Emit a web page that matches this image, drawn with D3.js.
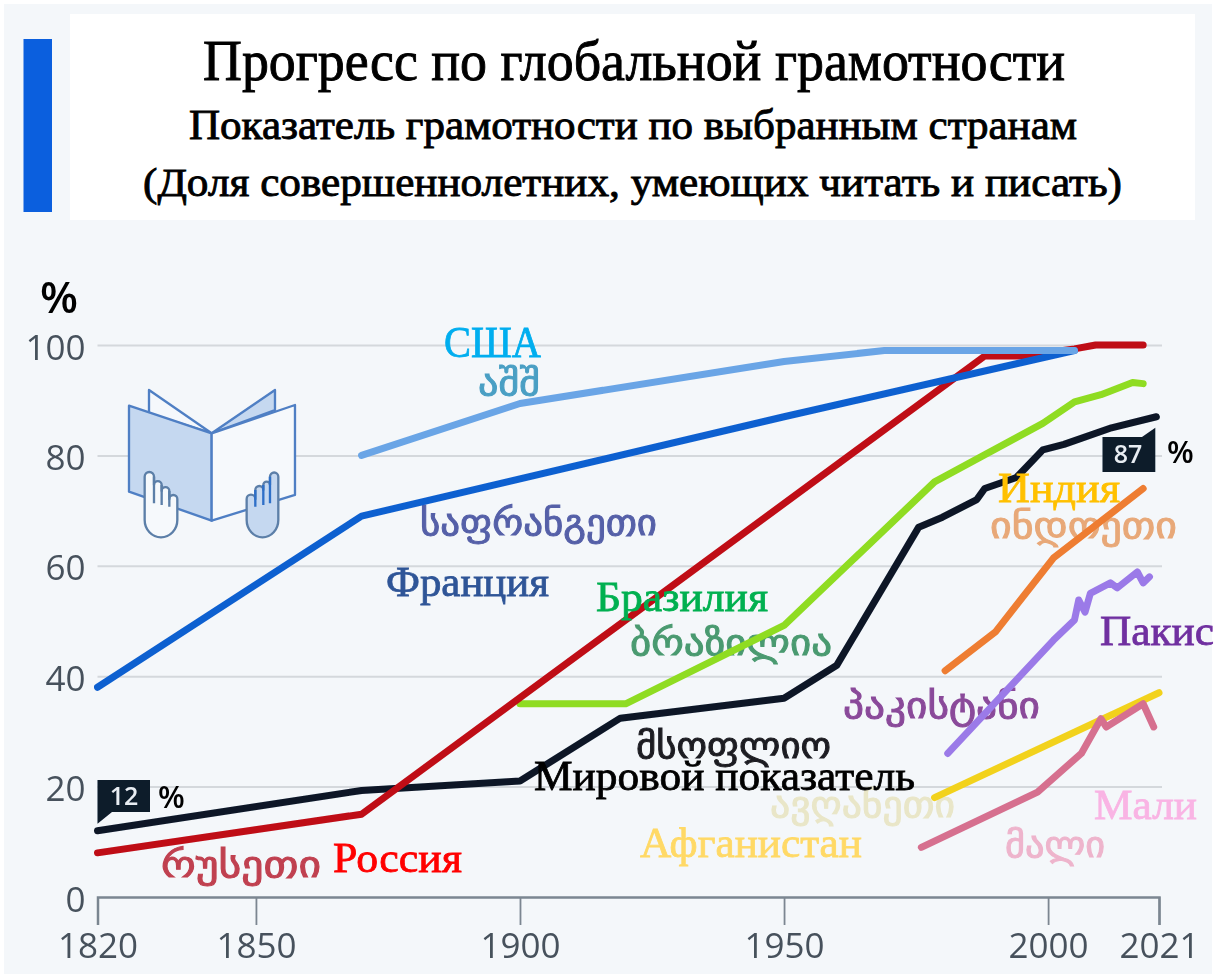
<!DOCTYPE html>
<html><head><meta charset="utf-8">
<script src="https://cdn.jsdelivr.net/npm/d3@7"></script>
<style>html,body{margin:0;padding:0;background:#fff}svg{display:block}</style>
</head><body><svg id="c" width="1214" height="978"></svg>
<script>
const xTicks=[1820,1850,1900,1950,2000,2021];
const yTicks=[0,20,40,60,80,100];
const worldYears=[1820,1870,1900,1919,1950,1960,1975.5,1980,1986.5,1988,1994,1999,2003,2012,2020.5];
const worldValues=[12,19.3,21,32.4,36,42,67,68.8,72,74,76,81,82,85,87];
const russiaYears=[1820,1870,1988,1995,2005,2009,2018];
const russiaValues=[8,15,98,98,99.3,100,100];
const franceYears=[1820,1870,1950,2005];
const franceValues=[38,69,87,99];
const usaYears=[1870,1900,1950,1969,2005];
const usaValues=[80,89.4,97,99,99];
const brazilYears=[1900,1920,1950,1978.5,1999,2005,2010,2016,2018];
const brazilValues=[35,35,49.2,75.2,85.8,89.7,91,93.2,93];
const indiaYears=[1980.5,1990,2001,2018];
const indiaValues=[41,48,61.4,74];
const pakistanYears=[1981,2001,2005,2005.8,2007,2008,2011.8,2013.1,2016.9,2018,2019.2];
const pakistanValues=[26,46.5,50.2,53.8,51.6,55,56.9,56,58.9,56.9,58];
const afghanYears=[1978.5,2021];
const afghanValues=[18,37];
const maliYears=[1976,1998,2006.3,2010,2011,2018,2020];
const maliValues=[9,19,26,32.3,30.8,35,30.8];
const titleLines=["Прогресс по глобальной грамотности","Показатель грамотности по выбранным странам","(Доля совершеннолетних, умеющих читать и писать)"];
const calloutValues=[12,87];

const seriesOrder=[
 ["world",worldYears,worldValues,"#0a1628"],
 ["brazil",brazilYears,brazilValues,"#8fdc20"],
 ["russia",russiaYears,russiaValues,"#bf0a14"],
 ["france",franceYears,franceValues,"#1160d0"],
 ["usa",usaYears,usaValues,"#6aa5e6"],
 ["india",indiaYears,indiaValues,"#ee7d31"],
 ["pakistan",pakistanYears,pakistanValues,"#9b7ae8"],
 ["afghan",afghanYears,afghanValues,"#f2d21e"],
 ["mali",maliYears,maliValues,"#d6708f"]];

// annotation layout: [text, x-left, x-right, baseline, size, colour]
const geoLabels=[
 ["აშშ",478,540,395,36,"#4a9fc4"],
 ["საფრანგეთი",420,657,535,36,"#5560a8"],
 ["ბრაზილია",630,832,655,36,"#4a9a70"],
 ["ინდოეთი",990,1177,538,36,"#e8a878"],
 ["პაკისტანი",843,1040,718,36,"#8a4a9a"],
 ["მსოფლიო",636,831,758,36,"#1c1c22"],
 ["ავღანეთი",770,955,817,36,"#e9e6c8"],
 ["მალი",1005,1105,857,36,"#eeb4cc"],
 ["რუსეთი",161,321,877,36,"#c04050"]];
const ruLabels=[
 ["США",444,541,357,44,"#00aeef"],
 ["Франция",386,549,596,43,"#2f5597"],
 ["Бразилия",596,768,611,43,"#00b050"],
 ["Индия",998,1120,502,43,"#ffc000"],
 ["Пакис",1100,1214,645,43,"#7030a0"],
 ["Мировой показатель",534,915,790,43,"#000"],
 ["Афганистан",640,862,857,43,"#ffd966"],
 ["Мали",1094,1197,819,43,"#f9b4e4"],
 ["Россия",333,462,872,43,"#ff0000"]];
const titleLayout=[[203,1065,80,56],[189,1077,139,42],[143,1122,196,41]];

const svg=d3.select("#c");
const defs=svg.append("defs");
defs.append("filter").attr("id","soft").append("feGaussianBlur").attr("stdDeviation",0.6);
const x=d3.scaleLinear().domain([1820,2021]).range([97.5,1159]);
const y=d3.scaleLinear().domain([0,100]).range([897,345]);
const serif="'Liberation Serif',serif";
const sans="'Open Sans',sans-serif";

svg.append("rect").attr("x",4).attr("y",4).attr("width",1208).attr("height",970).attr("fill","#f4f7fa");
svg.append("rect").attr("x",70).attr("y",14).attr("width",1125).attr("height",206).attr("fill","#fff");
svg.append("rect").attr("x",23.5).attr("y",39).attr("width",28.5).attr("height",173).attr("fill","#0b5fde");

svg.selectAll(".title").data(titleLines).join("text").attr("class","title")
 .attr("x",(d,i)=>titleLayout[i][0]).attr("y",(d,i)=>titleLayout[i][2])
 .attr("textLength",(d,i)=>titleLayout[i][1]-titleLayout[i][0]).attr("lengthAdjust","spacingAndGlyphs")
 .attr("font-family",serif).attr("font-size",(d,i)=>titleLayout[i][3])
 .attr("fill","#000").attr("stroke","#000").attr("stroke-width",0.9).text(d=>d);

const plot=svg.append("g").attr("filter","url(#soft)");
// y axis
const gy=plot.append("g").attr("transform","translate(97.5,0)")
 .call(d3.axisLeft(y).tickValues(yTicks).tickSize(-(1162-97.5)).tickPadding(12));
gy.select(".domain").remove();
gy.selectAll("line").attr("stroke","#d4d8dc").attr("stroke-width",2);
gy.selectAll("text").attr("font-family",sans).attr("font-size",35).attr("fill","#46515c").attr("dy",14);
gy.selectAll(".tick").filter(d=>d===0).select("line").remove();

// x axis
const gx=plot.append("g").attr("transform","translate(0,897)")
 .call(d3.axisBottom(x).tickValues(xTicks).tickFormat(d3.format("d")).tickSize(28).tickPadding(0));
gx.select(".domain").attr("stroke","#7b8691").attr("stroke-width",2.5);
gx.selectAll("line").attr("stroke","#7b8691").attr("stroke-width",1.8);
gx.selectAll("text").attr("font-family",sans).attr("font-size",35).attr("fill","#46515c").attr("dy",0).attr("y",61);

svg.append("text").attr("x",40).attr("y",313).attr("font-family",sans).attr("font-size",44).attr("font-weight",600).attr("fill","#000").text("%");

// book icon
const ic=plot.append("g").attr("transform","translate(110,375) scale(0.3333)").attr("stroke-linejoin","round").attr("stroke-width",7).attr("stroke","#4f7fc4");
ic.append("path").attr("d","M117 45L305 175L117 115Z").attr("fill","#f5f8fc");
ic.append("path").attr("d","M495 45L305 175L495 105Z").attr("fill","#c5d8f0");
ic.append("path").attr("d","M57 92L305 175V437L57 350Z").attr("fill","#c5d8f0");
ic.append("path").attr("d","M555 90L305 175V437L555 360Z").attr("fill","#f6f9fc");
ic.append("path").attr("d","M104 305A14 14 0 0 1 132 305V330A11.5 11.5 0 0 1 155 330V348A11.5 11.5 0 0 1 178 348V372A12 12 0 0 1 202 372V435A49 52 0 0 1 104 435Z").attr("fill","#f6f9fc").attr("stroke","#5c7fa8");
ic.append("path").attr("d","M132 305V385M155 330V390M178 348V395").attr("fill","none").attr("stroke","#5c7fa8");
ic.append("path").attr("d","M505 305A12.5 12.5 0 0 0 480 305V330A10 10 0 0 0 460 330V345A12 12 0 0 0 436 345V372A13 13 0 0 0 410 372V435A47.5 52 0 0 0 505 435Z").attr("fill","#c5d8f0").attr("stroke","#5c7fa8");
ic.append("path").attr("d","M480 305V385M460 330V390M436 345V395").attr("fill","none").attr("stroke","#2f6fc8");

const drawLabels=(parent,rows,font,sw)=>parent.append("g").selectAll("text").data(rows).join("text")
 .attr("x",d=>d[1]).attr("y",d=>d[3]).attr("textLength",d=>d[2]-d[1]).attr("lengthAdjust","spacingAndGlyphs")
 .attr("font-family",font).attr("font-size",d=>d[4]).attr("fill",d=>d[5]).attr("stroke",d=>d[5]).attr("stroke-width",sw).text(d=>d[0]);

drawLabels(plot,geoLabels,"'DejaVu Sans',sans-serif",1);

const line=d3.line().x(d=>x(d[0])).y(d=>y(d[1]));
plot.append("g").selectAll("path").data(seriesOrder).join("path")
 .attr("d",s=>line(s[1].map((yr,i)=>[yr,s[2][i]])))
 .attr("fill","none").attr("stroke",s=>s[3]).attr("stroke-width",7)
 .attr("stroke-linecap","round").attr("stroke-linejoin","round");

// callouts
const cx0=x(1820), cy0=y(calloutValues[0]);
plot.append("path").attr("d",`M${cx0} ${cy0-7}V780H150V812H112Z`).attr("fill","#0b1a2b");
plot.append("text").attr("x",124).attr("y",805).attr("text-anchor","middle").attr("font-family",sans).attr("font-size",25).attr("font-weight",600).attr("fill","#e8edf2").text(calloutValues[0]);
svg.append("text").attr("x",158).attr("y",808).attr("font-family",sans).attr("font-size",31).attr("font-weight",600).attr("fill","#000").text("%");
const cx1=x(2020.3), cy1=y(calloutValues[1]);
plot.append("path").attr("d",`M${cx1} ${cy1+11}V472H1102.5V437H1142Z`).attr("fill","#0b1a2b");
plot.append("text").attr("x",1128).attr("y",463).attr("text-anchor","middle").attr("font-family",sans).attr("font-size",25).attr("font-weight",600).attr("fill","#e8edf2").text(calloutValues[1]);
svg.append("text").attr("x",1167).attr("y",463).attr("font-family",sans).attr("font-size",31).attr("font-weight",600).attr("fill","#000").text("%");

drawLabels(svg,ruLabels,serif,0.8);
</script></body></html>
